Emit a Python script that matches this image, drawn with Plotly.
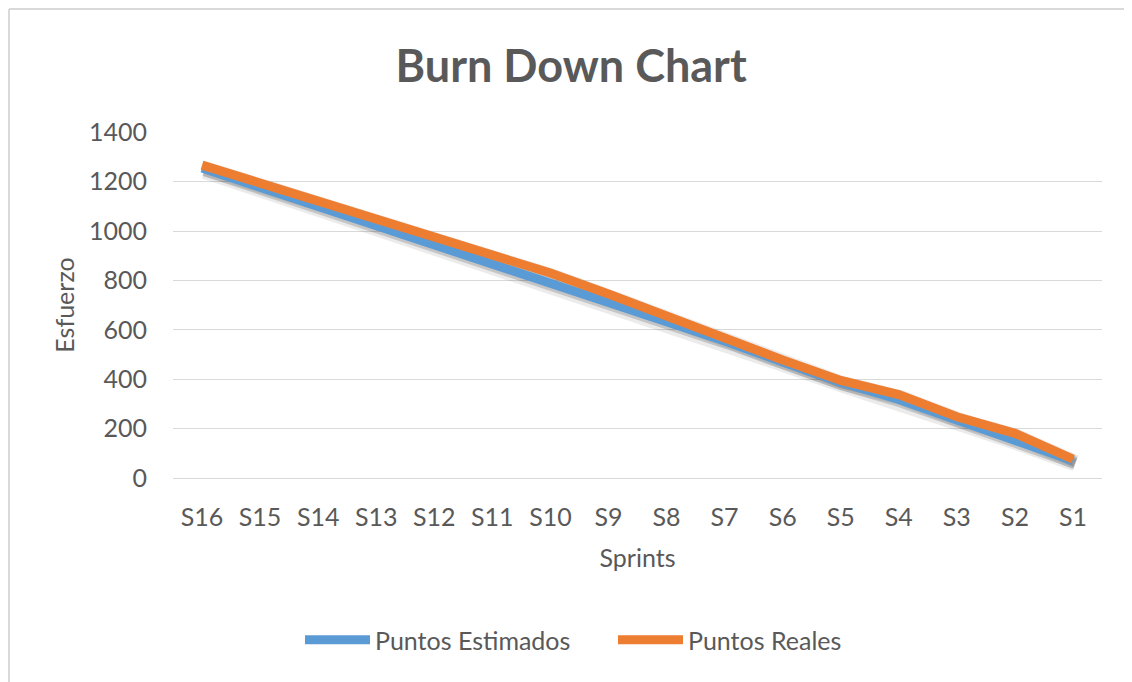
import plotly.graph_objects as go

sprints = ["S16", "S15", "S14", "S13", "S12", "S11", "S10", "S9",
           "S8", "S7", "S6", "S5", "S4", "S3", "S2", "S1"]
puntos_estimados = [1255, 1177, 1100, 1025, 950, 870, 795, 715,
                    638, 555, 470, 388, 318, 233, 155, 70]
puntos_reales = [1267, 1195, 1120, 1050, 978, 903, 830, 745,
                 655, 565, 478, 395, 338, 248, 181, 76]
y_ticks = [0, 200, 400, 600, 800, 1000, 1200, 1400]

TEXT = "#595959"
GRID = "#d9d9d9"
BLUE = "#5B9BD5"
ORANGE = "#ED7D31"
FONT = "Lato, Open Sans, sans-serif"
FS = 25

# page body adds an 8px offset; figure sized to fill the rest of the window
W, H = 1124, 674
L, T = 165, 124
PW, PH = 929, 346

fig = go.Figure()

# soft drop shadow on the base (hidden, slightly shifted) axes
for ys in (puntos_estimados, puntos_reales):
    fig.add_trace(go.Scatter(x=sprints, y=ys, mode="lines", xaxis="x", yaxis="y",
                             line=dict(color="rgba(0,0,0,0.08)", width=15),
                             showlegend=False, hoverinfo="skip"))
    fig.add_trace(go.Scatter(x=sprints, y=ys, mode="lines", xaxis="x", yaxis="y",
                             line=dict(color="rgba(0,0,0,0.16)", width=10),
                             showlegend=False, hoverinfo="skip"))

# visible series on the overlay axes that carry ticks and grid
fig.add_trace(go.Scatter(x=sprints, y=puntos_estimados, mode="lines", name="Puntos Estimados",
                         xaxis="x2", yaxis="y2", line=dict(color=BLUE, width=9)))
fig.add_trace(go.Scatter(x=sprints, y=puntos_reales, mode="lines", name="Puntos Reales",
                         xaxis="x2", yaxis="y2", line=dict(color=ORANGE, width=9)))

xr = [-0.5, 15.5]
yr = [0, 1401]

fig.update_layout(
    width=W, height=H,
    margin=dict(l=L, r=W - L - PW, t=T, b=H - T - PH),
    paper_bgcolor="white", plot_bgcolor="white",
    font=dict(family=FONT, color=TEXT, size=FS),
    title=dict(text="<b>Burn Down Chart</b>", x=0.501, xanchor="center",
               y=0.914, yanchor="middle",
               font=dict(family=FONT, size=45, color=TEXT)),
    xaxis=dict(type="category", categoryorder="array", categoryarray=sprints,
               range=[xr[0] - 0.04, xr[1] - 0.04], visible=False),
    yaxis=dict(range=[yr[0] + 13, yr[1] + 13], visible=False),
    xaxis2=dict(type="category", categoryorder="array", categoryarray=sprints,
                overlaying="x", side="bottom", anchor="y2",
                range=xr, showgrid=False, showline=True, linecolor=GRID, linewidth=1,
                ticks="outside", ticklen=17, tickcolor="rgba(0,0,0,0)",
                tickfont=dict(size=FS, color=TEXT),
                title=dict(text="Sprints", standoff=19, font=dict(size=FS, color=TEXT)),
                zeroline=False),
    yaxis2=dict(overlaying="y", side="left", anchor="x2",
                range=yr, tickvals=y_ticks, showgrid=True, gridcolor=GRID, gridwidth=1,
                showline=False, zeroline=False,
                ticks="outside", ticklen=20, tickcolor="rgba(0,0,0,0)",
                tickfont=dict(size=FS, color=TEXT),
                title=dict(text="Esfuerzo", standoff=7, font=dict(size=FS, color=TEXT))),
    legend=dict(orientation="h", x=(300 - 8 - L) / PW, xanchor="left",
                y=-(640 - 8 - T - PH) / PH, yanchor="middle",
                font=dict(size=FS, color=TEXT), itemwidth=65, entrywidth=233,
                entrywidthmode="pixels", traceorder="normal"),
    shapes=[
        dict(type="line", xref="paper", yref="paper",
             x0=(1 - L) / PW, x1=(W - L) / PW,
             y0=1 + (T - 1) / PH, y1=1 + (T - 1) / PH,
             line=dict(color=GRID, width=2)),
        dict(type="line", xref="paper", yref="paper",
             x0=(1 - L) / PW, x1=(1 - L) / PW,
             y0=1 + (T - 1) / PH, y1=-(H - T - PH) / PH,
             line=dict(color=GRID, width=2)),
    ],
)

fig.write_html("out.html")
